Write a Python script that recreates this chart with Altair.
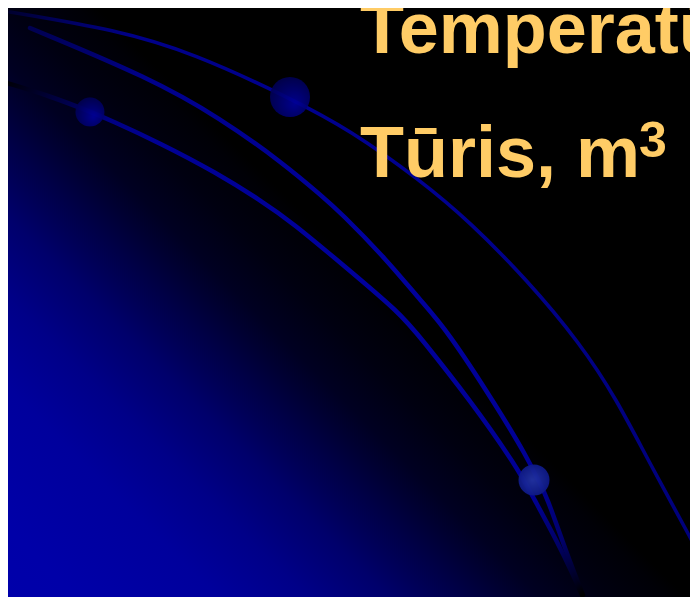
import altair as alt
import pandas as pd

# ---- data (page pixel coordinates) ----
FRAME_X = [8, 690]
FRAME_Y = [8, 597]

# outer arc (through the large bead)
arc_a_x = [10, 117, 193, 290, 350, 420, 470, 527, 580, 617, 648, 697]
arc_a_y = [12, 30, 53, 98, 130, 180, 222, 280, 343, 400, 460, 550]

# middle arc
arc_b_x = [30, 150, 220, 283, 323, 340, 387, 420, 447, 497, 527, 538, 547, 563, 577, 583]
arc_b_y = [28, 78, 118, 163, 197, 212, 260, 300, 330, 407, 457, 480, 497, 543, 580, 595]

# inner arc (through the small bead)
arc_c_x = [7, 50, 91, 110, 160, 217, 260, 293, 343, 400, 420, 470, 517, 533, 558, 574, 582]
arc_c_y = [83, 96, 112, 120, 143, 173, 200, 223, 265, 313, 337, 400, 467, 497, 543, 577, 595]

# beads
bead_x = [290, 90]
bead_y = [97, 112]
bead_d = [40, 29]
low_bead_x = [534]
low_bead_y = [480]
low_bead_d = [31]

# texts
title_text = ["Temperatūra", "Tūris, m"]
title_x = [360, 360]
title_y = [53, 177]
sup_text = ["3"]
sup_x = [639]
sup_y = [157]

# ---- styles ----
BG_GRAD = {
    "gradient": "linear",
    "x1": 0.0, "y1": 1.0, "x2": 0.5703, "y2": 0.5075,
    "stops": [
        {"offset": 0.0, "color": "#0000aa"},
        {"offset": 0.1016, "color": "#0000a8"},
        {"offset": 0.3078, "color": "#00009c"},
        {"offset": 0.4404, "color": "#000088"},
        {"offset": 0.5582, "color": "#00006c"},
        {"offset": 0.676, "color": "#000045"},
        {"offset": 0.782, "color": "#000022"},
        {"offset": 0.882, "color": "#000010"},
        {"offset": 0.9706, "color": "#000006"},
        {"offset": 1.0, "color": "#000000"},
    ],
}

GRAD_A = {
    "gradient": "linear", "x1": 0, "y1": 0, "x2": 1, "y2": 0,
    "stops": [
        {"offset": 0.0, "color": "#000030"},
        {"offset": 0.08, "color": "#000060"},
        {"offset": 0.18, "color": "#000088"},
        {"offset": 0.6, "color": "#000090"},
        {"offset": 1.0, "color": "#00007a"},
    ],
}
GRAD_B = {
    "gradient": "linear", "x1": 0, "y1": 0, "x2": 1, "y2": 1,
    "stops": [
        {"offset": 0.0, "color": "#000050"},
        {"offset": 0.15, "color": "#00008a"},
        {"offset": 0.5, "color": "#00009c"},
        {"offset": 0.86, "color": "#000094"},
        {"offset": 0.935, "color": "#000068"},
        {"offset": 0.98, "color": "#000024"},
        {"offset": 1.0, "color": "#000000"},
    ],
}
GRAD_C = {
    "gradient": "linear", "x1": 0, "y1": 0, "x2": 1, "y2": 1,
    "stops": [
        {"offset": 0.0, "color": "#000008"},
        {"offset": 0.10, "color": "#000066"},
        {"offset": 0.125, "color": "#000082"},
        {"offset": 0.19, "color": "#000094"},
        {"offset": 0.5, "color": "#00009c"},
        {"offset": 0.86, "color": "#000094"},
        {"offset": 0.93, "color": "#000066"},
        {"offset": 0.975, "color": "#000028"},
        {"offset": 1.0, "color": "#000000"},
    ],
}
BEAD_GRAD = {
    "gradient": "radial",
    "x1": 0.62, "y1": 0.68, "r1": 0,
    "x2": 0.55, "y2": 0.6, "r2": 0.7,
    "stops": [
        {"offset": 0.0, "color": "#00009c"},
        {"offset": 1.0, "color": "#000048"},
    ],
}
LOW_BEAD_GRAD = {
    "gradient": "radial",
    "x1": 0.45, "y1": 0.5, "r1": 0,
    "x2": 0.5, "y2": 0.5, "r2": 0.6,
    "stops": [
        {"offset": 0.0, "color": "#2232a4"},
        {"offset": 1.0, "color": "#0a1480"},
    ],
}

xs = alt.Scale(domain=FRAME_X, nice=False, zero=False)
ys = alt.Scale(domain=FRAME_Y, nice=False, zero=False, reverse=True)


def X(f="x"):
    return alt.X(f"{f}:Q", scale=xs, axis=None)


def Y(f="y"):
    return alt.Y(f"{f}:Q", scale=ys, axis=None)


bg_df = pd.DataFrame({"x": [FRAME_X[0]], "x2": [FRAME_X[1]],
                      "y": [FRAME_Y[0]], "y2": [FRAME_Y[1]]})
bg = alt.Chart(bg_df).mark_rect(fill=BG_GRAD, strokeWidth=0).encode(
    x=X(), x2="x2:Q", y=Y(), y2="y2:Q")


def arc_layer(xv, yv, grad, width):
    df = pd.DataFrame({"x": xv, "y": yv, "i": list(range(len(xv)))})
    return alt.Chart(df).mark_line(
        stroke=grad, strokeWidth=width, interpolate="basis",
        strokeCap="round", clip=True
    ).encode(x=X(), y=Y(), order="i:Q")


arc_a = arc_layer(arc_a_x, arc_a_y, GRAD_A, 3.6)
arc_b = arc_layer(arc_b_x, arc_b_y, GRAD_B, 4.5)
arc_c = arc_layer(arc_c_x, arc_c_y, GRAD_C, 4.5)

bead_df = pd.DataFrame({"x": bead_x, "y": bead_y, "s": [d * d for d in bead_d]})
beads = alt.Chart(bead_df).mark_point(
    shape="circle", filled=True, fill=BEAD_GRAD, strokeWidth=0, opacity=0.9
).encode(x=X(), y=Y(), size=alt.Size("s:Q", scale=None, legend=None))

low_df = pd.DataFrame({"x": low_bead_x, "y": low_bead_y, "s": [d * d for d in low_bead_d]})
low_bead = alt.Chart(low_df).mark_point(
    shape="circle", filled=True, fill=LOW_BEAD_GRAD, strokeWidth=0, opacity=0.95
).encode(x=X(), y=Y(), size=alt.Size("s:Q", scale=None, legend=None))

title_df = pd.DataFrame({"x": title_x, "y": title_y, "t": title_text})
title = alt.Chart(title_df).mark_text(
    font="Liberation Sans", fontWeight="bold", fontSize=72, color="#FFCC66",
    align="left", baseline="alphabetic", clip=True
).encode(x=X(), y=Y(), text="t:N")

sup_df = pd.DataFrame({"x": sup_x, "y": sup_y, "t": sup_text})
sup = alt.Chart(sup_df).mark_text(
    font="Liberation Sans", fontWeight="bold", fontSize=50, color="#FFCC66",
    align="left", baseline="alphabetic", clip=True
).encode(x=X(), y=Y(), text="t:N")

chart = alt.layer(bg, arc_a, arc_b, arc_c, beads, low_bead, title, sup).properties(
    width=682, height=589, background="#000000", padding=0,
    autosize=alt.AutoSizeParams(type="none")
).configure_view(stroke=None)

chart.save("out.html", embed_options={"renderer": "svg", "actions": False})
